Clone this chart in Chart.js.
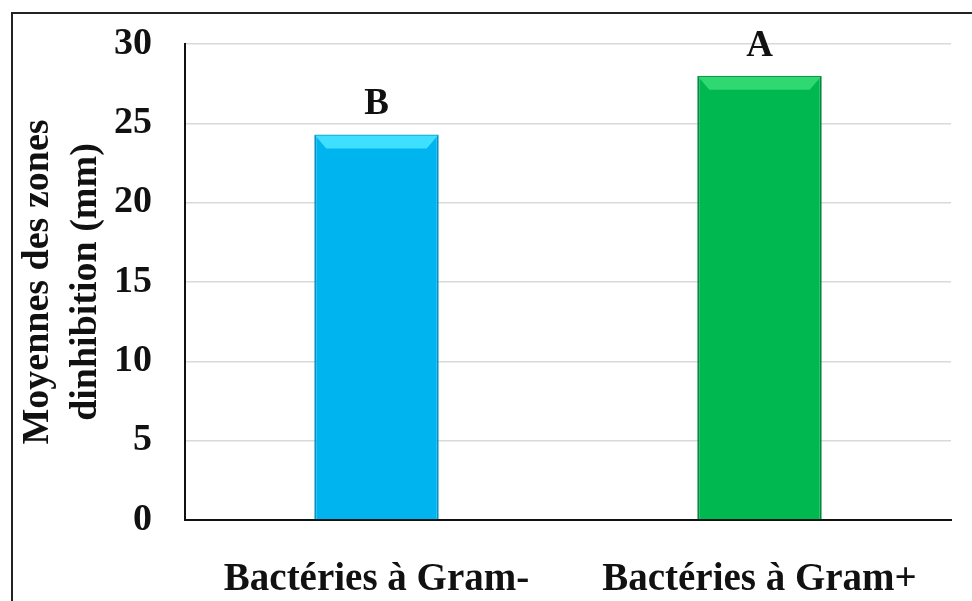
<!DOCTYPE html>
<html>
<head>
<meta charset="utf-8">
<script src="https://cdn.jsdelivr.net/npm/chart.js@4"></script>
<style>
  html, body { margin: 0; padding: 0; background: #fff; }
  #wrap { position: relative; width: 972px; height: 601px; overflow: hidden; }
  #frame { position: absolute; left: 11px; top: 12px; width: 1000px; height: 700px; border: 2px solid #222; box-sizing: border-box; }
  #c { position: absolute; left: 0; top: 0; }
</style>
</head>
<body>
<div id="wrap">
  <div id="frame"></div>
  <canvas id="c" width="972" height="601"></canvas>
</div>
<script>
const categories = ["Bactéries à Gram-", "Bactéries à Gram+"];
const means = [24.3, 28.0];
const groupLetters = ["B", "A"];
const yTicks = [0, 5, 10, 15, 20, 25, 30];
const yTitle = ["Moyennes des zones", "dinhibition (mm)"];

const serif = "'Liberation Serif', 'Times New Roman', serif";

const letterPlugin = {
  id: 'letters',
  afterDatasetsDraw(chart) {
    const ctx = chart.ctx;
    const meta = chart.getDatasetMeta(0);
    ctx.save();
    ctx.font = "bold 37px " + serif;
    ctx.fillStyle = "#111";
    ctx.textAlign = "center";
    ctx.textBaseline = "alphabetic";
    meta.data.forEach((bar, i) => {
      ctx.fillText(groupLetters[i], bar.x, bar.y - 20);
    });
    ctx.restore();
  }
};

const bevelPlugin = {
  id: 'bevel',
  afterDatasetsDraw(chart) {
    const ctx = chart.ctx;
    const meta = chart.getDatasetMeta(0);
    const tops = ["#3fe0ff", "#2fd870"];
    ctx.save();
    meta.data.forEach((bar, i) => {
      const w = bar.width, l = bar.x - w / 2, r = bar.x + w / 2, t = bar.y;
      ctx.fillStyle = tops[i];
      ctx.beginPath();
      ctx.moveTo(l + 1, t + 1);
      ctx.lineTo(r - 1, t + 1);
      ctx.lineTo(r - 12, t + 14);
      ctx.lineTo(l + 12, t + 14);
      ctx.closePath();
      ctx.fill();
    });
    ctx.restore();
  }
};

new Chart(document.getElementById('c'), {
  type: 'bar',
  data: {
    labels: categories,
    datasets: [{
      data: means,
      backgroundColor: ["#00b4f0", "#00b850"],
      borderColor: ["#0892c4", "#06853e"],
      borderWidth: 2,
      borderSkipped: 'bottom',
      barPercentage: 0.325,
      categoryPercentage: 1.0
    }]
  },
  options: {
    responsive: false,
    animation: false,
    devicePixelRatio: 1,
    layout: { padding: { left: 0, right: 21, top: 44, bottom: 0 } },
    plugins: { legend: { display: false }, tooltip: { enabled: false } },
    scales: {
      x: {
        grid: { display: false, drawTicks: false },
        border: { display: true, color: "#111", width: 2 },
        ticks: {
          padding: 37,
          color: "#111",
          font: { family: serif, size: 39, weight: 'bold' }
        },
        afterFit(scale) { scale.height = 81; scale.paddingLeft = 0; scale.paddingRight = 0; }
      },
      y: {
        min: 0,
        max: 30,
        afterBuildTicks(scale) { scale.ticks = yTicks.map(v => ({ value: v })); },
        grid: { color: "#d9d9d9", lineWidth: 1.5, drawTicks: false },
        border: { display: true, color: "#111", width: 2 },
        ticks: {
          padding: 33,
          color: "#111",
          font: { family: serif, size: 38, weight: 'bold' }
        },
        title: {
          display: true,
          text: yTitle,
          color: "#111",
          font: { family: serif, size: 38, weight: 'bold', lineHeight: 1.26 },
          padding: { top: 14, bottom: 0 }
        },
        afterFit(scale) { scale.width = 185; scale.paddingTop = 0; scale.paddingBottom = 0; }
      }
    }
  },
  plugins: [bevelPlugin, letterPlugin]
});
</script>
</body>
</html>
